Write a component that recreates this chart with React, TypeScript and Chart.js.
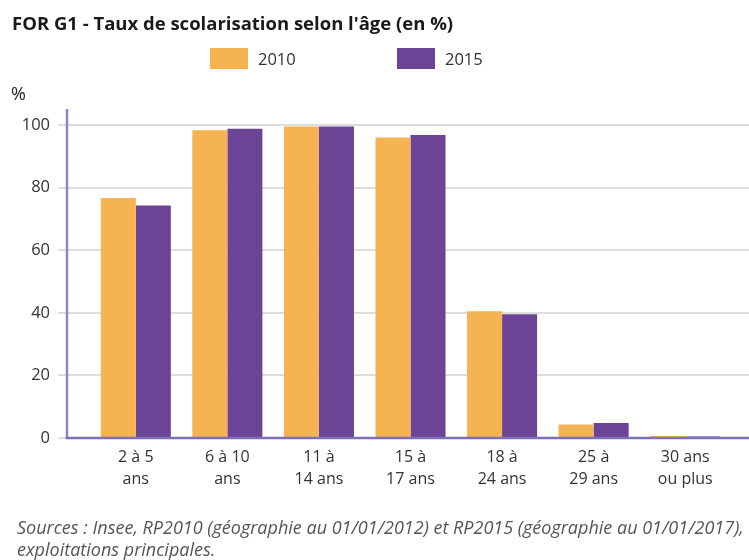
import React, { useEffect, useRef } from "react";
import { Chart, registerables } from "chart.js";

Chart.register(...registerables);

const categories: string[][] = [
  ["2 à 5", "ans"],
  ["6 à 10", "ans"],
  ["11 à", "14 ans"],
  ["15 à", "17 ans"],
  ["18 à", "24 ans"],
  ["25 à", "29 ans"],
  ["30 ans", "ou plus"],
];
const seriesNames = ["2010", "2015"];
const values2010 = [76.7, 98.3, 99.5, 96.0, 40.5, 4.3, 0.6];
const values2015 = [74.3, 98.8, 99.5, 96.8, 39.5, 4.8, 0.5];
const yTicks = [0, 20, 40, 60, 80, 100];
const seriesColors = ["#F6B352", "#6C4496"];
const titleText = "FOR G1 - Taux de scolarisation selon l'âge (en %)";
const unitLabel = "%";
const sourceLines = [
  "Sources : Insee, RP2010 (géographie au 01/01/2012) et RP2015 (géographie au 01/01/2017),",
  "exploitations principales.",
];

const FONT = "'Open Sans', sans-serif";

const axesPlugin = {
  id: "customAxes",
  beforeDatasetsDraw(chart: any) {
    const { ctx, chartArea } = chart;
    const y = chart.scales.y;
    ctx.save();
    ctx.strokeStyle = "#dddddd";
    ctx.lineWidth = 2;
    y.ticks.forEach((t: any) => {
      const py = Math.round(y.getPixelForValue(t.value));
      ctx.beginPath();
      ctx.moveTo(chartArea.left - 32, py);
      ctx.lineTo(chart.width, py);
      ctx.stroke();
    });
    ctx.restore();
  },
  afterDatasetsDraw(chart: any) {
    const { ctx, chartArea } = chart;
    const axisX = chartArea.left - 23;
    ctx.save();
    ctx.lineWidth = 2.5;
    ctx.strokeStyle = "#8c87c7";
    ctx.beginPath();
    ctx.moveTo(axisX, chartArea.top - 16);
    ctx.lineTo(axisX, chartArea.bottom);
    ctx.stroke();
    ctx.strokeStyle = "#7d70b8";
    ctx.beginPath();
    ctx.moveTo(axisX - 1.25, chartArea.bottom);
    ctx.lineTo(chart.width, chartArea.bottom);
    ctx.stroke();
    ctx.restore();
  },
};

export default function App() {
  const canvasRef = useRef<HTMLCanvasElement | null>(null);

  useEffect(() => {
    document.body.style.margin = "0";
    const canvas = canvasRef.current;
    if (!canvas) return;
    const chart = new Chart(canvas, {
      type: "bar",
      data: {
        labels: categories,
        datasets: [
          {
            label: seriesNames[0],
            data: values2010,
            backgroundColor: seriesColors[0],
            categoryPercentage: 0.765,
            barPercentage: 1,
          },
          {
            label: seriesNames[1],
            data: values2015,
            backgroundColor: seriesColors[1],
            categoryPercentage: 0.765,
            barPercentage: 1,
          },
        ],
      },
      options: {
        animation: false,
        responsive: false,
        layout: { padding: { top: 125, right: 18, bottom: 52, left: 0 } },
        plugins: {
          legend: { display: false },
          title: { display: false },
          tooltip: { enabled: false },
        },
        scales: {
          x: {
            grid: { display: false, drawTicks: false },
            border: { display: false },
            ticks: {
              padding: 8,
              color: "#333333",
              maxRotation: 0,
              autoSkip: false,
              font: { family: FONT, size: 16, lineHeight: 22 / 16 },
            },
            afterFit: (s: any) => {
              s.height = 70;
            },
          },
          y: {
            min: 0,
            max: 100,
            grid: { display: false, drawTicks: false },
            border: { display: false },
            afterBuildTicks: (s: any) => {
              s.ticks = yTicks.map((v) => ({ value: v }));
            },
            ticks: {
              padding: 40,
              color: "#333333",
              font: { family: FONT, size: 16.5 },
            },
            afterFit: (s: any) => {
              s.width = 90;
            },
          },
        },
      },
      plugins: [axesPlugin],
    } as any);
    return () => chart.destroy();
  }, []);

  return (
    <div
      style={{
        position: "relative",
        width: 749,
        height: 560,
        overflow: "hidden",
        background: "#ffffff",
        fontFamily: FONT,
      }}
    >
      <canvas ref={canvasRef} width={749} height={560} style={{ position: "absolute", left: 0, top: 0 }} />
      <div
        style={{
          position: "absolute",
          left: 12,
          top: 11,
          fontSize: 18.5,
          fontWeight: 700,
          lineHeight: "24px",
          color: "#1a1a1a",
          whiteSpace: "nowrap",
        }}
      >
        {titleText}
      </div>
      <div style={{ position: "absolute", left: 210, top: 48, display: "flex" }}>
        {seriesNames.map((name, i) => (
          <div key={name} style={{ display: "flex", alignItems: "center", width: 187 }}>
            <span
              style={{
                display: "inline-block",
                width: 38,
                height: 21,
                background: seriesColors[i],
                marginRight: 10,
              }}
            />
            <span style={{ fontSize: 16.5, color: "#333333", lineHeight: "21px" }}>{name}</span>
          </div>
        ))}
      </div>
      <div
        style={{
          position: "absolute",
          left: 11,
          top: 81,
          fontSize: 18,
          lineHeight: "24px",
          color: "#222222",
        }}
      >
        {unitLabel}
      </div>
      <div
        style={{
          position: "absolute",
          left: 17,
          top: 516,
          fontSize: 18,
          fontStyle: "italic",
          lineHeight: "22px",
          color: "#555555",
          whiteSpace: "nowrap",
        }}
      >
        {sourceLines.map((l) => (
          <div key={l}>{l}</div>
        ))}
      </div>
    </div>
  );
}
